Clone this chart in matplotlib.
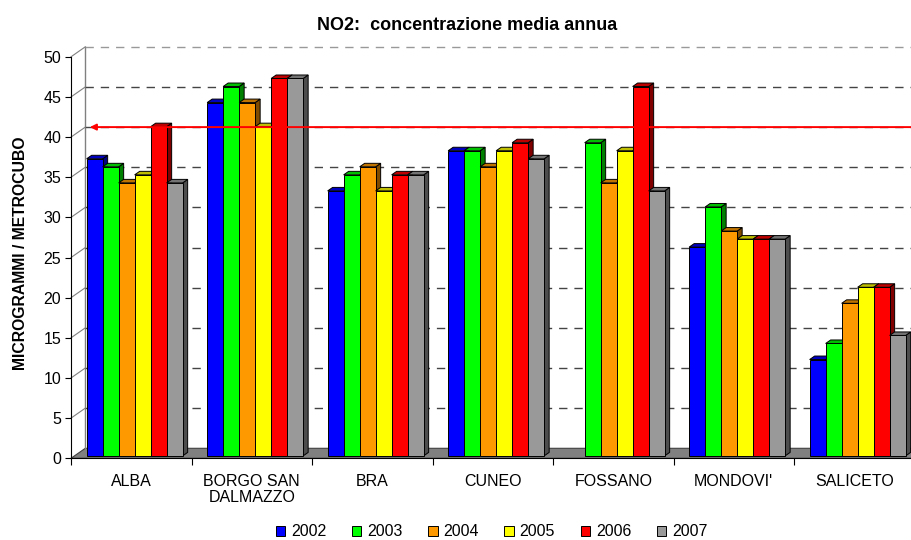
import matplotlib
matplotlib.use("Agg")
import matplotlib.pyplot as plt
import matplotlib.colors as mcolors
from matplotlib.patches import Polygon, Patch

plt.rcParams['font.family'] = ['Liberation Sans', 'DejaVu Sans']

# === DATA ===
STATIONS = ["ALBA", "BORGO SAN\nDALMAZZO", "BRA", "CUNEO", "FOSSANO", "MONDOVI'", "SALICETO"]
YEARS = ["2002", "2003", "2004", "2005", "2006", "2007"]
V2002 = [37, 44, 33, 38, None, 26, 12]
V2003 = [36, 46, 35, 38, 39, 31, 14]
V2004 = [34, 44, 36, 36, 34, 28, 19]
V2005 = [35, 41, 33, 38, 38, 27, 21]
V2006 = [41, 47, 35, 39, 46, 27, 21]
V2007 = [34, 47, 35, 37, 33, 27, 15]
SERIES = [V2002, V2003, V2004, V2005, V2006, V2007]
COLORS = ["#0000FF", "#00FF00", "#FF9900", "#FFFF00", "#FF0000", "#999999"]
LIMIT = 40
YMAX = 50
# ============

W, H = 911, 540
PX_X = 120.5   # pixels per category
PX_Y = 8.03    # pixels per unit
# 3d offsets (pixels -> data units)
WX, WY = 14.3 / PX_X, 10 / PX_Y        # back wall
FX, FY = 3.4 / PX_X, 2.4 / PX_Y        # bar front face
DX, DY = 5.0 / PX_X, 3.5 / PX_Y        # bar depth
BW = 16 / PX_X                         # bar width

fig = plt.figure(figsize=(W / 100, H / 100), dpi=100)
ax = fig.add_axes([71 / W, (H - 458.3) / H, len(STATIONS) * PX_X / W, YMAX * PX_Y / H])
x0, x1 = -0.5, len(STATIONS) - 0.5
ax.set_xlim(x0, x1)
ax.set_ylim(0, YMAX)

# floor
ax.add_patch(Polygon([(x0, 0), (x0 + WX, WY), (x1 + 1, WY), (x1 + 1, 0)],
                     facecolor="#808080", edgecolor="#404040", lw=0.8, zorder=1, clip_on=False))

# back wall / side wall lines
ax.plot([x0 + WX, x0 + WX], [WY, YMAX + WY], color="#808080", lw=1, zorder=1, clip_on=False)
for v in range(5, YMAX + 1, 5):
    col = "#999999" if v == YMAX else "#444444"
    ax.plot([x0 + WX, x1 + 1], [v + WY, v + WY], color=col, lw=1,
            dashes=(6, 5), zorder=1, clip_on=False)
    ax.plot([x0, x0 + WX], [v, v + WY], color="#808080", lw=0.8, zorder=1, clip_on=False)

# 3d bars
z = 3
for i, vals in enumerate(SERIES):
    base = mcolors.to_rgb(COLORS[i])
    top_c = tuple(c * 0.75 for c in base)
    side_c = tuple(c * 0.5 for c in base)
    for j, v in enumerate(vals):
        if v is None:
            continue
        bx = j - 3 * BW + i * BW + FX
        b, t = FY, v + FY
        front = [(bx, b), (bx + BW, b), (bx + BW, t), (bx, t)]
        top = [(bx, t), (bx + DX, t + DY), (bx + BW + DX, t + DY), (bx + BW, t)]
        side = [(bx + BW, b), (bx + BW + DX, b + DY), (bx + BW + DX, t + DY), (bx + BW, t)]
        for pts, c in [(side, side_c), (top, top_c), (front, base)]:
            ax.add_patch(Polygon(pts, facecolor=c, edgecolor="black", lw=0.7,
                                 zorder=z + i, clip_on=False))

# limit line
ax.annotate("", xy=(x0 + WX + 4.5 / PX_X, LIMIT + WY), xytext=(x1 + 1, LIMIT + WY),
            arrowprops=dict(arrowstyle="-|>", color="red", lw=1.4, mutation_scale=9,
                            shrinkA=0, shrinkB=0),
            annotation_clip=False, zorder=20)

# axes styling
for s in ["top", "right"]:
    ax.spines[s].set_visible(False)
ax.spines["left"].set_color("black")
ax.spines["bottom"].set_color("black")
ax.set_yticks(range(0, YMAX + 1, 5))
ax.tick_params(axis="y", length=4, width=0.8, pad=3, labelsize=11.5)
ax.set_xticks(range(len(STATIONS)))
ax.set_xticklabels(STATIONS, fontsize=11.5, linespacing=1.15)
ax.tick_params(axis="x", which="major", length=0, pad=11)
ax.set_xticks([k - 0.5 for k in range(len(STATIONS) + 1)], minor=True)
ax.tick_params(axis="x", which="minor", length=5, width=0.8)

fig.text(466.7 / W, 1 - 25 / H, "NO2:  concentrazione media annua",
         ha="center", va="center", fontsize=13, fontweight="bold")
fig.text(20.5 / W, 1 - 253 / H, "MICROGRAMMI / METROCUBO", rotation=90,
         ha="center", va="center", fontsize=11.3, fontweight="bold")

handles = [Patch(facecolor=c, edgecolor="black", lw=0.7) for c in COLORS]
fig.legend(handles, YEARS, loc="center", bbox_to_anchor=(491.6 / W, 1 - 532 / H),
           ncol=6, frameon=False, fontsize=11.5, handlelength=0.6, handleheight=0.6,
           handletextpad=0.36, columnspacing=1.6, borderpad=0)

fig.savefig("out.png", dpi=100)
